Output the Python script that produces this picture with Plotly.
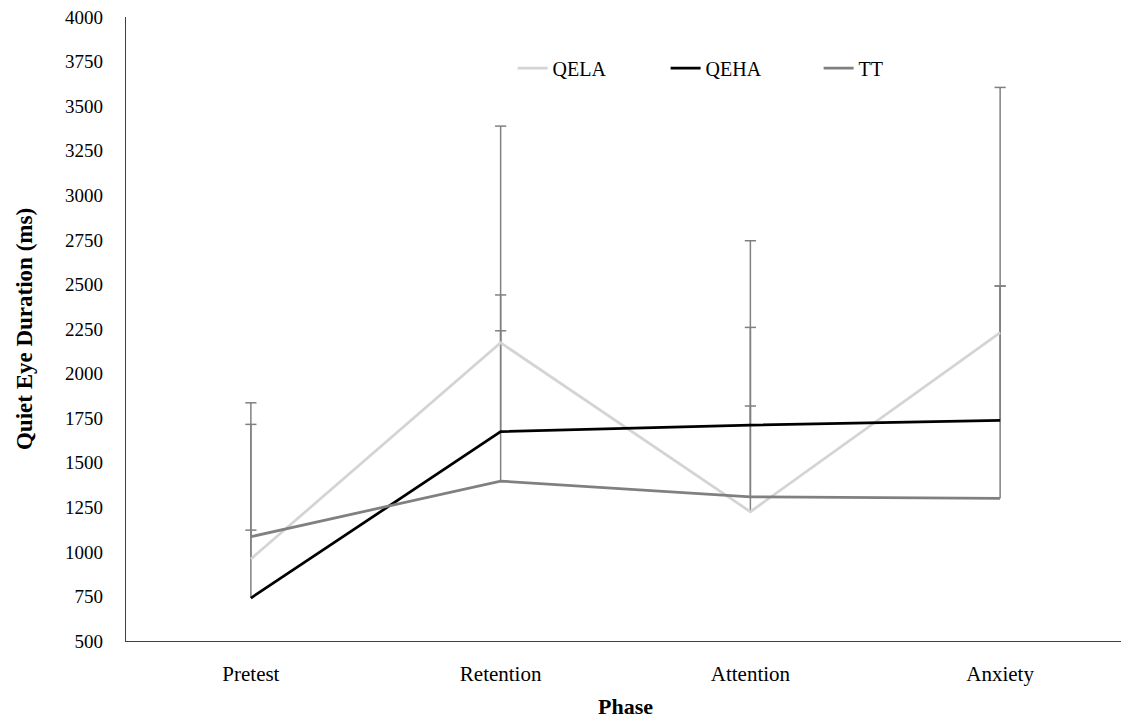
import plotly.graph_objects as go

phases = ["Pretest", "Retention", "Attention", "Anxiety"]
qela = [960, 2173, 1225, 2229]
qeha = [741, 1674, 1711, 1737]
tt = [1085, 1397, 1309, 1300]
qela_sd = [876, 1215, 1520, 1376]
qeha_sd = [974, 767, 548, 754]
tt_sd = [37, 843, 509, 1191]
y_ticks = list(range(500, 4001, 250))

FONT = "Liberation Serif"
ERR_COL = "#808080"

series = [("QELA", qela, qela_sd, "#d4d4d4"),
          ("QEHA", qeha, qeha_sd, "#000000"),
          ("TT", tt, tt_sd, "#808080")]

fig = go.Figure()
# upper error bars (no cap at the mean)
for name, vals, sd, col in series:
    xs, ys = [], []
    for p, v, s in zip(phases, vals, sd):
        xs += [p, p, None]
        ys += [v, v + s, None]
    fig.add_trace(go.Scatter(x=xs, y=ys, mode="lines", showlegend=False, hoverinfo="skip",
                             line=dict(color=ERR_COL, width=1.5)))
    fig.add_trace(go.Scatter(x=phases, y=[v + s for v, s in zip(vals, sd)], mode="markers",
                             showlegend=False, hoverinfo="skip",
                             marker=dict(symbol="line-ew", size=8,
                                         line=dict(color=ERR_COL, width=1.5))))
for name, vals, sd, col in series:
    fig.add_trace(go.Scatter(x=phases, y=vals, name=name, mode="lines",
                             line=dict(color=col, width=2.75)))

fig.update_layout(
    width=1121, height=713,
    margin=dict(l=118, r=4, t=9, b=80),
    paper_bgcolor="white", plot_bgcolor="white",
    font=dict(family=FONT, color="#000000", size=19),
    legend=dict(orientation="h", x=0.387, y=0.918, xanchor="left", yanchor="middle",
                font=dict(size=20, family=FONT), entrywidth=108, entrywidthmode="pixels",
                bgcolor="rgba(0,0,0,0)"),
    showlegend=True,
)
fig.update_xaxes(range=[-0.5, 3.5], showline=True, linecolor="#404040", linewidth=1.2,
                 showgrid=False, ticks="", ticklabelstandoff=14, automargin=False,
                 tickfont=dict(size=21, family=FONT),
                 title=dict(text="<b>Phase</b>", font=dict(size=22, family=FONT), standoff=13),
                 zeroline=False)
fig.update_yaxes(range=[500, 4000], tickvals=y_ticks, showline=True, linecolor="#404040",
                 linewidth=1.2, showgrid=False, ticks="", ticklabelstandoff=18,
                 ticklabeloverflow="allow", automargin=False,
                 tickfont=dict(size=19, family=FONT), zeroline=False,
                 title=dict(text="<b>Quiet Eye Duration (ms)</b>", font=dict(size=23, family=FONT),
                            standoff=26))

fig.write_html("out.html")
